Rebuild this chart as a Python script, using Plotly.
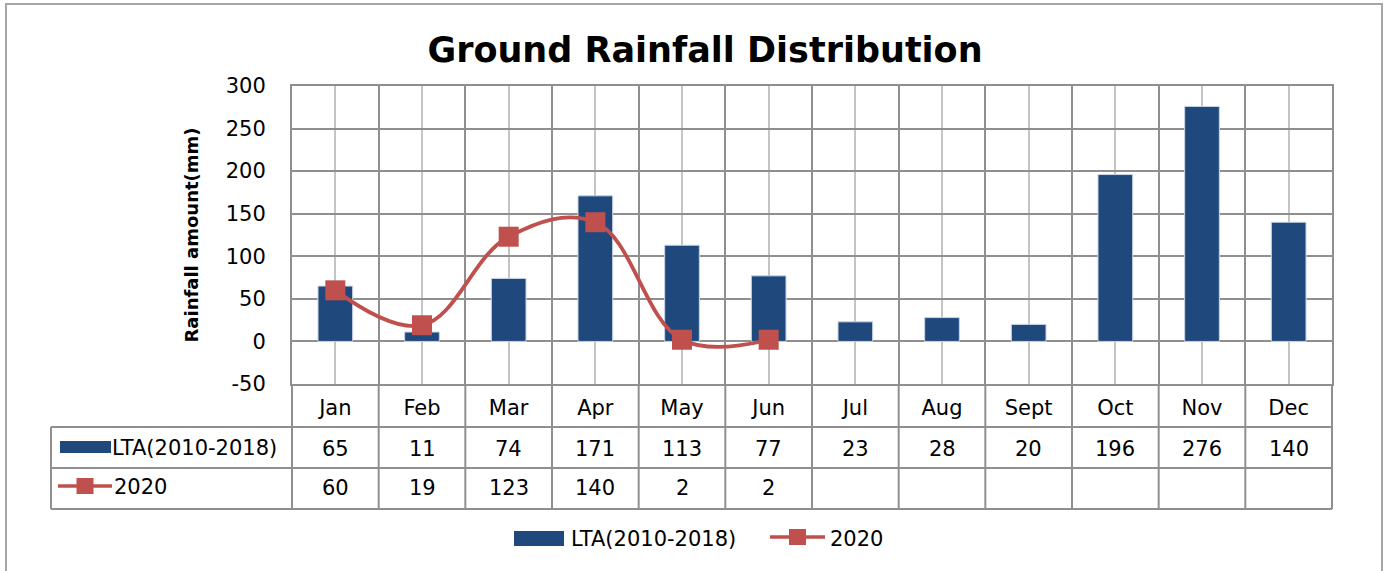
import plotly.graph_objects as go

# ---------------- data ----------------
months = ["Jan", "Feb", "Mar", "Apr", "May", "Jun", "Jul", "Aug", "Sept", "Oct", "Nov", "Dec"]
lta_values = [65, 11, 74, 171, 113, 77, 23, 28, 20, 196, 276, 140]
rain_2020 = [60, 19, 123, 140, 2, 2]
series_names = ["LTA(2010-2018)", "2020"]
y_tick_values = [-50, 0, 50, 100, 150, 200, 250, 300]
title_text = "Ground Rainfall Distribution"
y_title = "Rainfall amount(mm)"

# ---------------- styles ----------------
BAR_COLOR = "#1F497D"
LINE_COLOR = "#C0504D"
GRID_DARK = "#8f8f8f"
GRID_LIGHT = "#c4c4c4"
BORDER = "#a6a6a6"
FONT = "DejaVu Sans"
FS = 21

W_FIG, H_FIG = 1388, 571
L, R, T, B = 292, 56, 86, 187
PW = W_FIG - L - R
PH = H_FIG - T - B


def px(x):
    return (x - L) / PW


def py(y):
    return (H_FIG - B - y) / PH


n = len(months)
xs = list(range(n))

fig = go.Figure()
fig.add_trace(go.Bar(
    x=xs, y=lta_values, name=series_names[0], width=0.4,
    marker=dict(color=BAR_COLOR, line=dict(color="#c9d4e3", width=1)),
    showlegend=False,
))
fig.add_trace(go.Scatter(
    x=xs[:len(rain_2020)], y=rain_2020, name=series_names[1],
    mode="lines+markers",
    line=dict(color=LINE_COLOR, width=3.8, shape="spline", smoothing=1.1),
    marker=dict(symbol="square", size=20, color=LINE_COLOR),
    showlegend=False,
))

shapes = []
annotations = []

# table geometry (pixels)
ROW_MONTH_BOTTOM = 427
ROW_LTA_BOTTOM = 468
ROW_2020_BOTTOM = 509
TABLE_LEFT = 51

for k in range(n + 1):
    xk = k / n
    shapes.append(dict(type="line", xref="paper", yref="paper", x0=xk, x1=xk,
                       y0=0, y1=py(ROW_2020_BOTTOM), line=dict(color=GRID_DARK, width=2)))
for yy in [ROW_MONTH_BOTTOM, ROW_LTA_BOTTOM, ROW_2020_BOTTOM]:
    shapes.append(dict(type="line", xref="paper", yref="paper", x0=px(TABLE_LEFT), x1=1,
                       y0=py(yy), y1=py(yy), line=dict(color=GRID_DARK, width=2)))
shapes.append(dict(type="line", xref="paper", yref="paper", x0=px(TABLE_LEFT), x1=px(TABLE_LEFT),
                   y0=py(ROW_MONTH_BOTTOM), y1=py(ROW_2020_BOTTOM), line=dict(color=GRID_DARK, width=2)))

# table legend keys
shapes.append(dict(type="rect", xref="paper", yref="paper", x0=px(60), x1=px(111),
                   y0=py(453), y1=py(441), fillcolor=BAR_COLOR, line=dict(width=0)))
shapes.append(dict(type="line", xref="paper", yref="paper", x0=px(58), x1=px(112),
                   y0=py(486), y1=py(486), line=dict(color=LINE_COLOR, width=3.5)))
shapes.append(dict(type="rect", xref="paper", yref="paper", x0=px(76.5), x1=px(93.5),
                   y0=py(494), y1=py(478), fillcolor=LINE_COLOR, line=dict(width=0)))

# bottom legend keys
shapes.append(dict(type="rect", xref="paper", yref="paper", x0=px(514), x1=px(564),
                   y0=py(546), y1=py(531), fillcolor=BAR_COLOR, line=dict(width=0)))
shapes.append(dict(type="line", xref="paper", yref="paper", x0=px(770), x1=px(825),
                   y0=py(537), y1=py(537), line=dict(color=LINE_COLOR, width=3.5)))
shapes.append(dict(type="rect", xref="paper", yref="paper", x0=px(789), x1=px(806),
                   y0=py(545), y1=py(529), fillcolor=LINE_COLOR, line=dict(width=0)))

# outer chart border
shapes.append(dict(type="rect", xref="paper", yref="paper", x0=px(6), x1=px(1382),
                   y0=py(620), y1=py(4), line=dict(color=BORDER, width=2), layer="below"))

txt_font = dict(size=FS, color="black", family=FONT)
for i in range(n):
    annotations.append(dict(x=i, y=py(449), xref="x", yref="paper", text=str(lta_values[i]),
                            showarrow=False, font=txt_font, xanchor="center", yanchor="middle"))
for i, v in enumerate(rain_2020):
    annotations.append(dict(x=i, y=py(488), xref="x", yref="paper", text=str(v),
                            showarrow=False, font=txt_font, xanchor="center", yanchor="middle"))
annotations.append(dict(x=px(110), y=py(448), xref="paper", yref="paper", text=series_names[0],
                        showarrow=False, font=txt_font, xanchor="left", yanchor="middle"))
annotations.append(dict(x=px(112), y=py(487), xref="paper", yref="paper", text=series_names[1],
                        showarrow=False, font=txt_font, xanchor="left", yanchor="middle"))
annotations.append(dict(x=px(569), y=py(539), xref="paper", yref="paper", text=series_names[0],
                        showarrow=False, font=txt_font, xanchor="left", yanchor="middle"))
annotations.append(dict(x=px(828), y=py(539), xref="paper", yref="paper", text=series_names[1],
                        showarrow=False, font=txt_font, xanchor="left", yanchor="middle"))

fig.update_layout(
    width=W_FIG, height=H_FIG,
    margin=dict(l=L, r=R, t=T, b=B, autoexpand=False),
    paper_bgcolor="white", plot_bgcolor="white",
    font=dict(family=FONT, color="black", size=FS),
    title=dict(text="<b>" + title_text + "</b>", x=705 / W_FIG, y=1 - 50 / H_FIG,
               xref="container", yref="container", xanchor="center", yanchor="middle",
               font=dict(size=35, family=FONT, color="black")),
    shapes=shapes,
    annotations=annotations,
    xaxis=dict(
        range=[-0.5, n - 0.5], tickmode="array", tickvals=xs, ticktext=months,
        showgrid=True, gridcolor=GRID_LIGHT, gridwidth=1.5,
        minor=dict(tickmode="array", tickvals=[i + 0.5 for i in range(n - 1)],
                   showgrid=True, gridcolor=GRID_DARK, gridwidth=2),
        showline=True, linecolor=GRID_DARK, linewidth=2, mirror=True,
        zeroline=False, ticks="", tickfont=dict(size=FS), ticklabelstandoff=4,
    ),
    yaxis=dict(
        range=[-50, 300], tickmode="array", tickvals=y_tick_values,
        ticktext=[str(v) for v in y_tick_values],
        showgrid=True, gridcolor=GRID_DARK, gridwidth=2,
        showline=True, linecolor=GRID_DARK, linewidth=2, mirror=True,
        zeroline=False, ticks="", tickfont=dict(size=FS), ticklabelstandoff=20,
        title=dict(text="<b>" + y_title + "</b>", font=dict(size=18), standoff=22),
    ),
)

fig.write_html("out.html", config={"displayModeBar": False},
               post_script="document.body.style.margin='0px';")
